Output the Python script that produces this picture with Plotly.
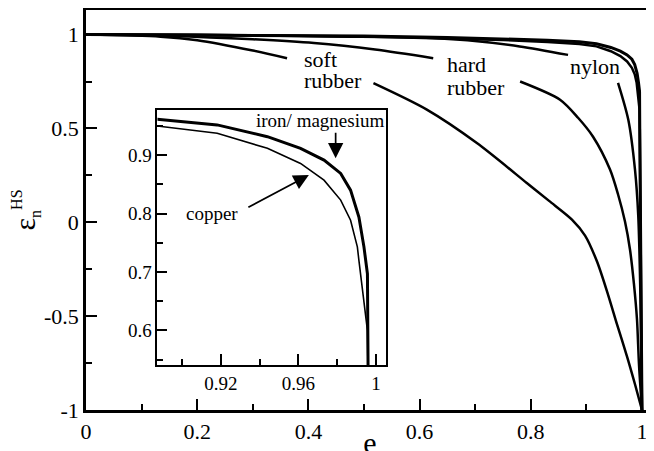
import plotly.graph_objects as go

# ---- data ----
soft_e   = [0, 0.134, 0.2, 0.3, 0.3616, None, 0.517, 0.613, 0.703, 0.7928, 0.8329, 0.874, 0.8976, 0.9191, 0.9389, 0.9551, 0.973, 0.9874, 1.0]
soft_eps = [1, 0.989, 0.97, 0.915, 0.874, None, 0.741, 0.60, 0.422, 0.2096, 0.114, 0.0144, -0.0707, -0.209, -0.385, -0.544, -0.714, -0.863, -1.0]

hard_e   = [0, 0.15, 0.3, 0.41, 0.52, 0.6245, None, 0.7808, 0.8526, 0.885, 0.912, 0.9425, 0.957, 0.9694, 0.9784, 0.9856, 0.991, 0.9946, 1.0]
hard_eps = [1, 0.993, 0.975, 0.955, 0.92, 0.874, None, 0.75, 0.653, 0.557, 0.456, 0.281, 0.148, 0.0037, -0.145, -0.331, -0.518, -0.757, -1.0]

nylon_e   = [0, 0.2, 0.44, 0.6, 0.686, 0.78, 0.867, None, 0.9569, 0.9754, 0.9874, 0.9933, 0.9973, 1.0]
nylon_eps = [1, 0.999, 0.99, 0.985, 0.97, 0.937, 0.892, None, 0.743, 0.546, 0.28, 0.032, -0.411, -1.0]

iron_e   = [0, 0.3, 0.5, 0.65, 0.75, 0.83, 0.8872, 0.9181, 0.944, 0.9611, 0.9732, 0.9818, 0.9869, 0.9912, 0.9938, 0.9956, 0.9960, 0.998, 1.0]
iron_eps = [1, 0.998, 0.993, 0.985, 0.978, 0.97, 0.9612, 0.9515, 0.9314, 0.9115, 0.8914, 0.8686, 0.840, 0.794, 0.743, 0.697, 0.50, -0.2, -1.0]

copper_e   = [0, 0.3, 0.5, 0.65, 0.75, 0.83, 0.8872, 0.9181, 0.944, 0.9611, 0.9732, 0.9818, 0.9869, 0.9904, 0.9912, 0.9956, 0.9960, 0.998, 1.0]
copper_eps = [1, 0.997, 0.99, 0.98, 0.971, 0.961, 0.9497, 0.9372, 0.9115, 0.8857, 0.857, 0.823, 0.7885, 0.743, 0.72, 0.60, 0.50, -0.2, -1.0]

main_xticks = [0, 0.2, 0.4, 0.6, 0.8, 1.0]
main_xticktext = ["0", "0.2", "0.4", "0.6", "0.8", "1"]
main_yticks = [-1, -0.5, 0, 0.5, 1]
main_yticktext = ["-1", "-0.5", "0", "0.5", "1"]
inset_xticks = [0.92, 0.96, 1.0]
inset_xticktext = ["0.92", "0.96", "1"]
inset_yticks = [0.6, 0.7, 0.8, 0.9]
inset_yticktext = ["0.6", "0.7", "0.8", "0.9"]

FONT = "serif"

fig = go.Figure()
for xs, ys, w, shp in [(soft_e, soft_eps, 2.5, "spline"), (hard_e, hard_eps, 2.5, "spline"),
                       (nylon_e, nylon_eps, 2.5, "spline"),
                       (copper_e, copper_eps, 2.5, "linear"), (iron_e, iron_eps, 3, "linear")]:
    fig.add_trace(go.Scatter(x=xs, y=ys, mode="lines",
                             line=dict(color="black", width=w, shape=shp, smoothing=0.8),
                             connectgaps=False, showlegend=False, hoverinfo="skip",
                             xaxis="x", yaxis="y"))
# inset
fig.add_trace(go.Scatter(x=copper_e, y=copper_eps, mode="lines", line=dict(color="black", width=1.6),
                         showlegend=False, hoverinfo="skip", xaxis="x2", yaxis="y2"))
fig.add_trace(go.Scatter(x=iron_e, y=iron_eps, mode="lines", line=dict(color="black", width=3),
                         showlegend=False, hoverinfo="skip", xaxis="x2", yaxis="y2"))

fig.update_layout(
    width=654, height=451,
    margin=dict(l=78, r=8, t=2, b=49),
    paper_bgcolor="white", plot_bgcolor="white",
    font=dict(family=FONT, color="black", size=22),
    showlegend=False,
    xaxis=dict(
        domain=[0, 1], range=[0, 1.0216], automargin=False,
        showline=True, linecolor="black", linewidth=2.5, mirror=True,
        showgrid=False, zeroline=False,
        ticks="inside", ticklen=11, tickwidth=2, tickcolor="black",
        tickvals=main_xticks, ticktext=main_xticktext,
        tickfont=dict(size=22, family=FONT, color="black"),
        minor=dict(ticks="inside", ticklen=6, tickwidth=1.5, tickcolor="black", dtick=0.1, tick0=0),
        title=dict(text="e", font=dict(size=30, family=FONT, color="black"), standoff=4),
    ),
    yaxis=dict(
        domain=[0, 1], range=[-1, 1.131], automargin=False,
        showline=True, linecolor="black", linewidth=2.5,
        showgrid=False, zeroline=False,
        ticks="inside", ticklen=11, tickwidth=2, tickcolor="black",
        tickvals=main_yticks, ticktext=main_yticktext,
        tickfont=dict(size=22, family=FONT, color="black"),
        minor=dict(ticks="inside", ticklen=6, tickwidth=1.5, tickcolor="black", dtick=0.25, tick0=0),
        title=dict(text="ε<sub><span style='font-size:16px'>n</span></sub><sup><span style='font-size:16px'>HS</span></sup>",
                   font=dict(size=30, family=FONT, color="black"), standoff=0),
    ),
    xaxis2=dict(
        domain=[0.1258, 0.5286], range=[0.8873, 1.0053], anchor="y2", automargin=False,
        showline=True, linecolor="black", linewidth=2, mirror=True,
        showgrid=False, zeroline=False,
        ticks="inside", ticklen=11, tickwidth=2, tickcolor="black",
        tickvals=inset_xticks, ticktext=inset_xticktext,
        tickfont=dict(size=19, family=FONT, color="black"),
        minor=dict(ticks="inside", ticklen=6, tickwidth=1.5, tickcolor="black", dtick=0.02, tick0=0.9),
    ),
    yaxis2=dict(
        domain=[0.1125, 0.75], range=[0.541, 0.977], anchor="x2", automargin=False,
        showline=True, linecolor="black", linewidth=2, mirror=True,
        showgrid=False, zeroline=False,
        ticks="inside", ticklen=10, tickwidth=2, tickcolor="black",
        tickvals=inset_yticks, ticktext=inset_yticktext,
        tickfont=dict(size=19, family=FONT, color="black"),
        minor=dict(ticks="inside", ticklen=6, tickwidth=1.5, tickcolor="black", dtick=0.05, tick0=0.55),
    ),
)

label_font = dict(family=FONT, size=22, color="black")
main_labels = [
    ("soft", 0.3885, 0.865), ("rubber", 0.3885, 0.754),
    ("hard", 0.646, 0.839), ("rubber", 0.646, 0.7165),
    ("nylon", 0.867, 0.828),
]
for txt, x, y in main_labels:
    fig.add_annotation(text=txt, x=x, y=y, xref="x", yref="y", xanchor="left", yanchor="middle",
                       showarrow=False, font=label_font)

inset_font = dict(family=FONT, size=19, color="black")
fig.add_annotation(text="iron/ magnesium", x=0.9709, y=0.9583, xref="x2", yref="y2",
                   xanchor="center", yanchor="middle", showarrow=False, font=inset_font)
fig.add_annotation(text="copper", x=0.9155, y=0.7997, xref="x2", yref="y2",
                   xanchor="center", yanchor="middle", showarrow=False, font=inset_font)
fig.add_annotation(text="", x=0.9792, y=0.8943, xref="x2", yref="y2", showarrow=True,
                   ax=0, ay=-27, arrowhead=2, arrowsize=1.8, arrowwidth=1.7, arrowcolor="black")
fig.add_annotation(text="", x=0.9654, y=0.8657, xref="x2", yref="y2", showarrow=True,
                   ax=-62, ay=33, arrowhead=2, arrowsize=1.8, arrowwidth=1.7, arrowcolor="black")

fig.write_html("out.html")
